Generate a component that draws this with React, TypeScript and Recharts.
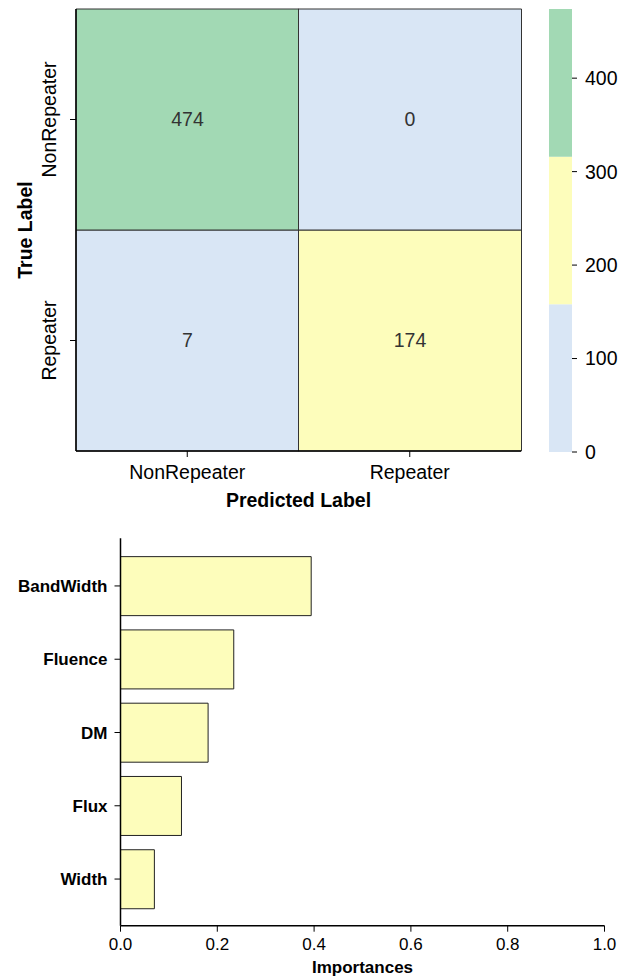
import React from "react";
import { BarChart, Bar, XAxis, YAxis, Cell, LabelList } from "recharts";

const FONT = '"Liberation Sans", Arial, Helvetica, sans-serif';

// ---------------------------------------------------------------------------
// Data
// ---------------------------------------------------------------------------

// confusion matrix: rows = true label, columns = predicted label
const predictedLabels = ["NonRepeater", "Repeater"];
const trueLabels = ["NonRepeater", "Repeater"];
const confusion = [
  [474, 0],
  [7, 174],
];

// discrete colour map (3 bins up to the max count)
const colorLevels = [0, 158, 316, 474];
const levelColors = ["#d9e6f5", "#fdfdbb", "#a2d9b4"];
const colorbarTicks = [0, 100, 200, 300, 400];

// feature importances
const features = ["BandWidth", "Fluence", "DM", "Flux", "Width"];
const importances = [0.394, 0.234, 0.181, 0.126, 0.07];
const importanceTicks = [0, 0.2, 0.4, 0.6, 0.8, 1.0];

// ---------------------------------------------------------------------------
// Derived tables
// ---------------------------------------------------------------------------

function colorFor(v: number) {
  for (let i = levelColors.length - 1; i >= 0; i--) {
    if (v >= colorLevels[i]) return levelColors[i];
  }
  return levelColors[0];
}

// one stacked column per predicted label; bottom segment = "Repeater" row
const heatData = predictedLabels.map((p, j) => ({
  pred: p,
  rowRepeater: 1,
  rowNonRepeater: 1,
  cntRepeater: confusion[1][j],
  cntNonRepeater: confusion[0][j],
}));

const bandKeys = levelColors.map((_, i) => `band${i}`);
const colorbarData = [
  bandKeys.reduce<Record<string, number | string>>(
    (acc, key, i) => {
      acc[key] = colorLevels[i + 1] - colorLevels[i];
      return acc;
    },
    { k: "cb" },
  ),
];

const impData = features.map((f, i) => ({ feature: f, importance: importances[i] }));

// ---------------------------------------------------------------------------
// Helpers
// ---------------------------------------------------------------------------

const axisLine = { stroke: "#000", strokeWidth: 1.5 };
const tickLine = { stroke: "#000", strokeWidth: 1 };

// rotated row labels on the heatmap
const RotatedTick = (props: any) => {
  const { x, y, payload } = props;
  const label = payload.value > 1 ? trueLabels[0] : trueLabels[1];
  return (
    <text
      x={x}
      y={y}
      transform={`rotate(-90 ${x} ${y})`}
      textAnchor="middle"
      fontSize={19.5}
      fill="#000"
    >
      {label}
    </text>
  );
};

// ---------------------------------------------------------------------------
// Component
// ---------------------------------------------------------------------------

export default function App() {
  return (
    <div
      style={{
        position: "absolute",
        left: 0,
        top: 0,
        width: 619,
        height: 977,
        fontFamily: FONT,
        background: "#fff",
      }}
    >
      {/* confusion matrix */}
      <div style={{ position: "absolute", left: 0, top: 0 }}>
        <BarChart
          width={540}
          height={520}
          data={heatData}
          margin={{ top: 9, right: 19, bottom: 9, left: 0 }}
          barCategoryGap={0}
          barGap={0}
        >
          <XAxis
            dataKey="pred"
            height={60}
            tickSize={6}
            tickMargin={8}
            tick={{ fontSize: 19.5, fill: "#000" }}
            axisLine={axisLine}
            tickLine={tickLine}
            label={{
              value: "Predicted Label",
              position: "insideBottom",
              offset: 4,
              fontSize: 19.5,
              fontWeight: "bold",
              fill: "#000",
            }}
          />
          <XAxis
            xAxisId="top"
            orientation="top"
            height={0}
            tick={false}
            tickLine={false}
            axisLine={axisLine}
          />
          <YAxis
            type="number"
            domain={[0, 2]}
            ticks={[0.5, 1.5]}
            width={76}
            tickSize={6}
            tickMargin={14.5}
            tick={<RotatedTick />}
            axisLine={axisLine}
            tickLine={tickLine}
            label={{
              value: "True Label",
              angle: -90,
              position: "insideLeft",
              offset: 25.5,
              fontSize: 19.5,
              fontWeight: "bold",
              fill: "#000",
              style: { textAnchor: "middle" },
            }}
          />
          <YAxis
            yAxisId="right"
            orientation="right"
            width={0}
            tick={false}
            tickLine={false}
            axisLine={axisLine}
          />
          <Bar dataKey="rowRepeater" stackId="cm" isAnimationActive={false}>
            {heatData.map((d, i) => (
              <Cell key={i} fill={colorFor(d.cntRepeater)} stroke="#333" strokeWidth={1} />
            ))}
            <LabelList dataKey="cntRepeater" position="center" fill="#333" fontSize={19.5} />
          </Bar>
          <Bar dataKey="rowNonRepeater" stackId="cm" isAnimationActive={false}>
            {heatData.map((d, i) => (
              <Cell key={i} fill={colorFor(d.cntNonRepeater)} stroke="#333" strokeWidth={1} />
            ))}
            <LabelList dataKey="cntNonRepeater" position="center" fill="#333" fontSize={19.5} />
          </Bar>
        </BarChart>
      </div>

      {/* colour bar */}
      <div style={{ position: "absolute", left: 540, top: 0 }}>
        <BarChart
          width={79}
          height={470}
          data={colorbarData}
          margin={{ top: 9, right: 0, bottom: 18, left: 9 }}
          barCategoryGap={0}
          barGap={0}
        >
          <XAxis dataKey="k" hide />
          <YAxis
            orientation="right"
            type="number"
            domain={[0, colorLevels[colorLevels.length - 1]]}
            ticks={colorbarTicks}
            interval={0}
            width={47}
            tickSize={5}
            tickMargin={8}
            tick={{ fontSize: 19.5, fill: "#000" }}
            axisLine={false}
            tickLine={tickLine}
          />
          {bandKeys.map((key, i) => (
            <Bar
              key={key}
              dataKey={key}
              stackId="cb"
              fill={levelColors[i]}
              isAnimationActive={false}
            />
          ))}
        </BarChart>
      </div>

      {/* feature importances */}
      <div style={{ position: "absolute", left: 0, top: 520 }}>
        <BarChart
          layout="vertical"
          width={619}
          height={457}
          data={impData}
          margin={{ top: 18.3, right: 14.5, bottom: 0, left: 0 }}
        >
          <XAxis
            type="number"
            domain={[0, 1]}
            ticks={importanceTicks}
            interval={0}
            tickFormatter={(v: number) => v.toFixed(1)}
            height={51.3}
            tickSize={6}
            tickMargin={6}
            tick={{ fontSize: 17, fill: "#000" }}
            axisLine={axisLine}
            tickLine={tickLine}
            label={{
              value: "Importances",
              position: "insideBottom",
              offset: 4.5,
              fontSize: 17,
              fontWeight: "bold",
              fill: "#000",
            }}
          />
          <YAxis
            type="category"
            dataKey="feature"
            width={120.5}
            padding={{ top: 11, bottom: 10 }}
            interval={0}
            tickSize={6}
            tickMargin={7}
            tick={{ fontSize: 17, fontWeight: "bold", fill: "#000" }}
            axisLine={axisLine}
            tickLine={tickLine}
          />
          <Bar
            dataKey="importance"
            fill="#fdfdbb"
            stroke="#222"
            strokeWidth={1}
            isAnimationActive={false}
          />
        </BarChart>
      </div>
    </div>
  );
}
